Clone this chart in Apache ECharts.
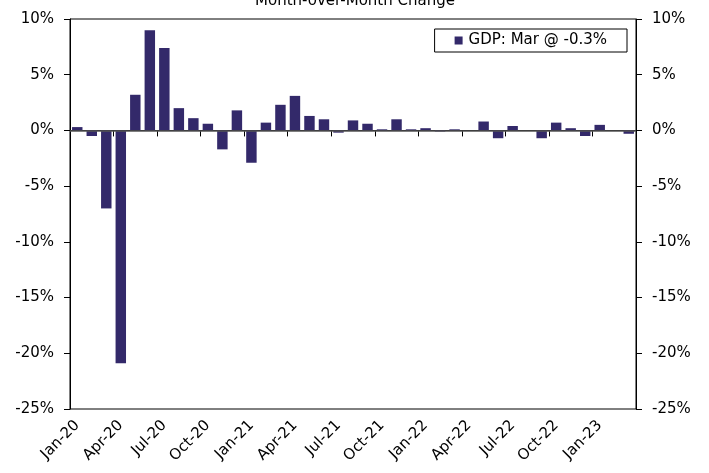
<!DOCTYPE html>
<html>
<head>
<meta charset="utf-8">
<script src="https://cdn.jsdelivr.net/npm/echarts@6/dist/echarts.min.js"></script>
<style>
  html, body { margin: 0; padding: 0; background: #fff; }
  #chart { width: 709px; height: 473px; }
</style>
</head>
<body>
<div id="chart"></div>
<script>
// Monthly GDP, month-over-month % change
const months = [
  'Jan-20','Feb-20','Mar-20','Apr-20','May-20','Jun-20','Jul-20','Aug-20','Sep-20','Oct-20','Nov-20','Dec-20',
  'Jan-21','Feb-21','Mar-21','Apr-21','May-21','Jun-21','Jul-21','Aug-21','Sep-21','Oct-21','Nov-21','Dec-21',
  'Jan-22','Feb-22','Mar-22','Apr-22','May-22','Jun-22','Jul-22','Aug-22','Sep-22','Oct-22','Nov-22','Dec-22',
  'Jan-23','Feb-23','Mar-23'
];
const gdpChange = [
  0.3, -0.5, -7.0, -20.9, 3.2, 9.0, 7.4, 2.0, 1.1, 0.6, -1.7, 1.8,
  -2.9, 0.7, 2.3, 3.1, 1.3, 1.0, -0.2, 0.9, 0.6, 0.1, 1.0, 0.1,
  0.2, -0.1, 0.1, 0.0, 0.8, -0.7, 0.4, 0.0, -0.7, 0.7, 0.2, -0.5,
  0.5, 0.0, -0.3
];
const yTicks = { min: -25, max: 10, step: 5 };
const chartTitle = 'Month-over-Month Change';

const lastLabel = months[months.length - 1].split('-')[0];
const lastValue = gdpChange[gdpChange.length - 1];
const seriesName = 'GDP: ' + lastLabel + ' @ ' + lastValue.toFixed(1) + '%';

const FONT = 'DejaVu Sans';
const barColor = '#33296a';

const yAxisBase = {
  type: 'value',
  min: yTicks.min,
  max: yTicks.max,
  interval: yTicks.step,
  axisLine: { show: true, lineStyle: { color: '#000', width: 1 } },
  axisTick: { show: true, length: 6, lineStyle: { color: '#000' } },
  splitLine: { show: false },
  axisLabel: {
    formatter: '{value}%',
    color: '#000',
    fontFamily: FONT,
    fontSize: 15,
    margin: 16
  }
};

const chart = echarts.init(document.getElementById('chart'), null, { renderer: 'canvas' });
chart.setOption({
  animation: false,
  backgroundColor: '#fff',
  title: {
    text: chartTitle,
    left: 350,
    textAlign: 'center',
    top: -11,
    textStyle: { fontFamily: FONT, fontSize: 15, fontWeight: 'normal', color: '#000' }
  },
  grid: {
    left: 70, right: 73, top: 19, bottom: 64,
    show: true, borderColor: '#000', borderWidth: 1, backgroundColor: 'transparent'
  },
  legend: {
    data: [seriesName],
    right: 82,
    top: 29,
    padding: [4, 20, 4, 20],
    borderColor: '#000',
    borderWidth: 1,
    backgroundColor: '#fff',
    icon: 'rect',
    itemWidth: 8,
    itemHeight: 8,
    textStyle: { fontFamily: FONT, fontSize: 15, color: '#000', padding: [0, 0, 0, 1] }
  },
  xAxis: {
    type: 'category',
    data: months,
    boundaryGap: true,
    axisLine: { show: true, lineStyle: { color: '#000', width: 1 } },
    axisTick: { show: true, interval: 2, alignWithLabel: false, length: 6, lineStyle: { color: '#000' } },
    axisLabel: {
      interval: 2,
      rotate: 45,
      color: '#000',
      fontFamily: FONT,
      fontSize: 15,
      margin: 14
    },
    splitLine: { show: false }
  },
  yAxis: [
    Object.assign({ position: 'left' }, yAxisBase),
    Object.assign({ position: 'right' }, yAxisBase)
  ],
  series: [{
    name: seriesName,
    type: 'bar',
    data: gdpChange,
    barCategoryGap: '28%',
    itemStyle: { color: barColor },
    markLine: {
      silent: true,
      symbol: 'none',
      label: { show: false },
      lineStyle: { color: '#555', width: 1.5, type: 'solid' },
      data: [{ yAxis: 0 }]
    }
  }]
});
</script>
</body>
</html>
